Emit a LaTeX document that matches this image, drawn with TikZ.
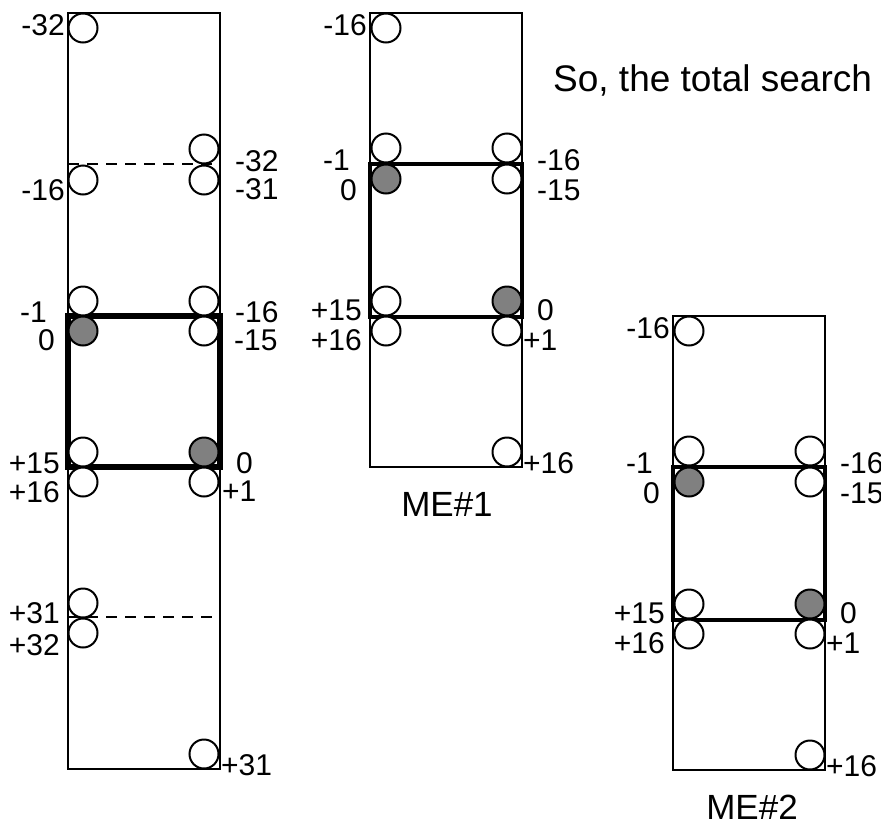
\documentclass[tikz,border=0pt]{standalone}
\usepackage{fontspec}
\setmainfont{Liberation Sans}

\begin{document}
\begin{tikzpicture}[x=1pt, y=-1pt,
    every node/.style={font=\fontsize{30}{34}\selectfont, inner sep=0pt},
    pel/.style={draw, circle, fill=white, minimum size=29pt, line width=2pt},
    best/.style={pel, fill=gray},
    area/.style={draw, line width=2pt},
    win/.style={draw, line width=6pt},
    mewin/.style={draw, line width=4pt},
    cut/.style={line width=1.2pt, dash pattern=on 11pt off 8pt}]
    \useasboundingbox (0,0) rectangle (881,825);

    \node[anchor=base west, font=\fontsize{37}{42}\selectfont] (note) at (553,91) {So, the total search};

    % full search range
    \draw[area] (68,13) rectangle (220,769);
    \draw[cut] (68,164) -- (220,164);
    \draw[cut] (68,617) -- (220,617);
    \draw[win] (68,316) rectangle (220,467);
    \node[pel] (la) at (83,28) {};
    \node[pel] (lb) at (83,180) {};
    \node[pel] (lc) at (83,301) {};
    \node[best] (ld) at (83,331) {};
    \node[pel] (le) at (83,452) {};
    \node[pel] (lf) at (83,482) {};
    \node[pel] (lg) at (83,603) {};
    \node[pel] (lh) at (83,633) {};
    \node[pel] (ra) at (204,149) {};
    \node[pel] (rb) at (204,180) {};
    \node[pel] (rc) at (204,301) {};
    \node[pel] (rd) at (204,331) {};
    \node[best] (re) at (204,452) {};
    \node[pel] (rf) at (204,482) {};
    \node[pel] (rg) at (204,754) {};
    \node[anchor=east] (tla) at (65,25) {-32};
    \node[anchor=east] (tlb) at (65,190) {-16};
    \node[anchor=east] (tlc) at (47,312) {-1};
    \node[anchor=east] (tld) at (55,340) {0};
    \node[anchor=east] (tle) at (60,463) {+15};
    \node[anchor=east] (tlf) at (60,492) {+16};
    \node[anchor=east] (tlg) at (60,613) {+31};
    \node[anchor=east] (tlh) at (60,645) {+32};
    \node[anchor=west] (tra) at (235,161) {-32};
    \node[anchor=west] (trb) at (235,189) {-31};
    \node[anchor=west] (trc) at (235,312) {-16};
    \node[anchor=west] (trd) at (234,340) {-15};
    \node[anchor=west] (tre) at (236,463) {0};
    \node[anchor=west] (trf) at (222,491) {+1};
    \node[anchor=west] (trg) at (221,765) {+31};

    % ME#1
    \draw[area] (370,13) rectangle (522,467);
    \draw[mewin] (370,164) rectangle (522,317);
    \node[pel] (pa) at (386,28) {};
    \node[pel] (pb) at (386,148) {};
    \node[best] (pc) at (386,179) {};
    \node[pel] (pd) at (386,301) {};
    \node[pel] (pe) at (386,331) {};
    \node[pel] (qa) at (507,148) {};
    \node[pel] (qb) at (507,179) {};
    \node[best] (qc) at (507,301) {};
    \node[pel] (qd) at (507,331) {};
    \node[pel] (qe) at (507,452) {};
    \node[anchor=east] (tpa) at (367,25) {-16};
    \node[anchor=east] (tpb) at (350,160) {-1};
    \node[anchor=east] (tpc) at (357,190) {0};
    \node[anchor=east] (tpd) at (362,310) {+15};
    \node[anchor=east] (tpe) at (362,340) {+16};
    \node[anchor=west] (tqa) at (537,160) {-16};
    \node[anchor=west] (tqb) at (537,190) {-15};
    \node[anchor=west] (tqc) at (537,310) {0};
    \node[anchor=west] (tqd) at (523,340) {+1};
    \node[anchor=west] (tqe) at (523,463) {+16};
    \node[anchor=base, font=\fontsize{35}{40}\selectfont] (me1) at (447,516) {ME\#1};

    % ME#2
    \draw[area] (673,316) rectangle (825,770);
    \draw[mewin] (673,467) rectangle (825,620);
    \node[pel] (sa) at (689,331) {};
    \node[pel] (sb) at (689,451) {};
    \node[best] (sc) at (689,482) {};
    \node[pel] (sd) at (689,604) {};
    \node[pel] (se) at (689,634) {};
    \node[pel] (ua) at (810,451) {};
    \node[pel] (ub) at (810,482) {};
    \node[best] (uc) at (810,604) {};
    \node[pel] (ud) at (810,634) {};
    \node[pel] (ue) at (810,755) {};
    \node[anchor=east] (tsa) at (670,328) {-16};
    \node[anchor=east] (tsb) at (653,463) {-1};
    \node[anchor=east] (tsc) at (660,493) {0};
    \node[anchor=east] (tsd) at (665,613) {+15};
    \node[anchor=east] (tse) at (665,643) {+16};
    \node[anchor=west] (tua) at (840,463) {-16};
    \node[anchor=west] (tub) at (840,493) {-15};
    \node[anchor=west] (tuc) at (840,613) {0};
    \node[anchor=west] (tud) at (826,643) {+1};
    \node[anchor=west] (tue) at (826,766) {+16};
    \node[anchor=base, font=\fontsize{35}{40}\selectfont] (me2) at (752,819) {ME\#2};
\end{tikzpicture}
\end{document}
